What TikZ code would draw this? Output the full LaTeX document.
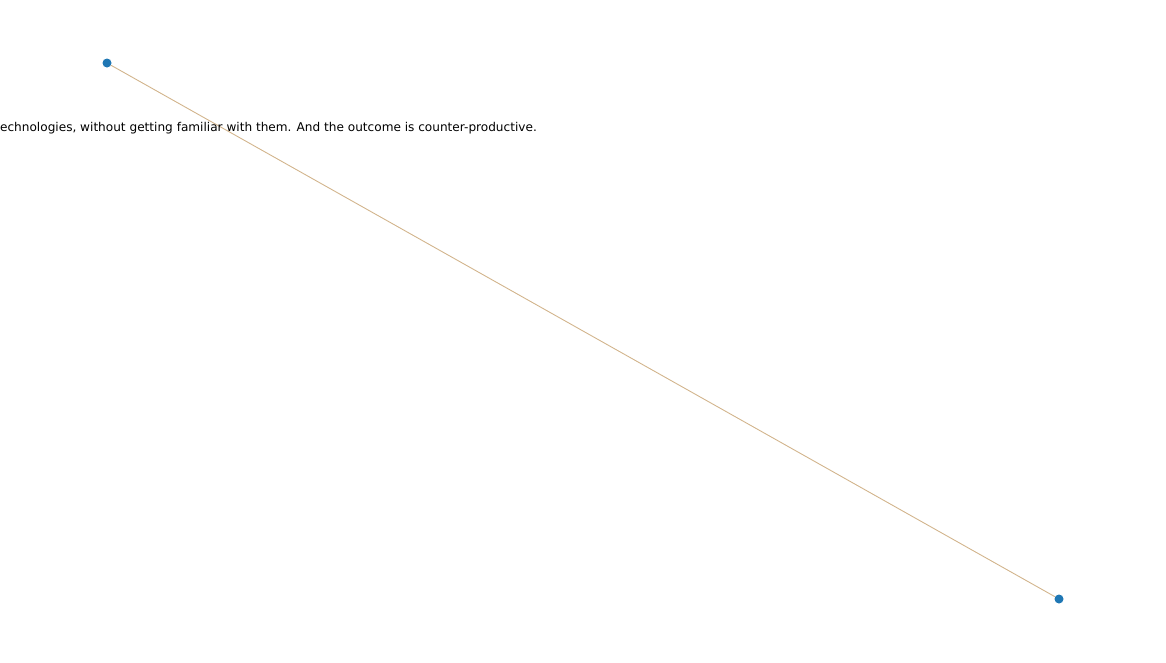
\documentclass[tikz,border=0pt]{standalone}
\usepackage{fontspec}
\setmainfont{DejaVu Sans}
\definecolor{dotblue}{HTML}{1F77B4}
\definecolor{edgetan}{HTML}{D2B48C}
\tikzset{
  dot/.style={circle,fill=dotblue,draw=none,inner sep=0pt,minimum size=9pt},
  edge/.style={draw=edgetan,line width=0.9pt},
  label/.style={font=\fontsize{12.1}{14}\selectfont,inner sep=0pt,anchor=base east,text=black}
}
\begin{document}
\begin{tikzpicture}[x=1pt,y=-1pt]
\useasboundingbox (0,0) rectangle (1166,662);
\clip (0,0) rectangle (1166,662);
\node[dot] (a) at (107,63) {};
\node[dot] (b) at (1059,599) {};
\draw[edge] (a) -- (b);
\node[label] (t) at (537,131) {technologies, without getting familiar with them. And the outcome is counter-productive.};
\end{tikzpicture}
\end{document}
